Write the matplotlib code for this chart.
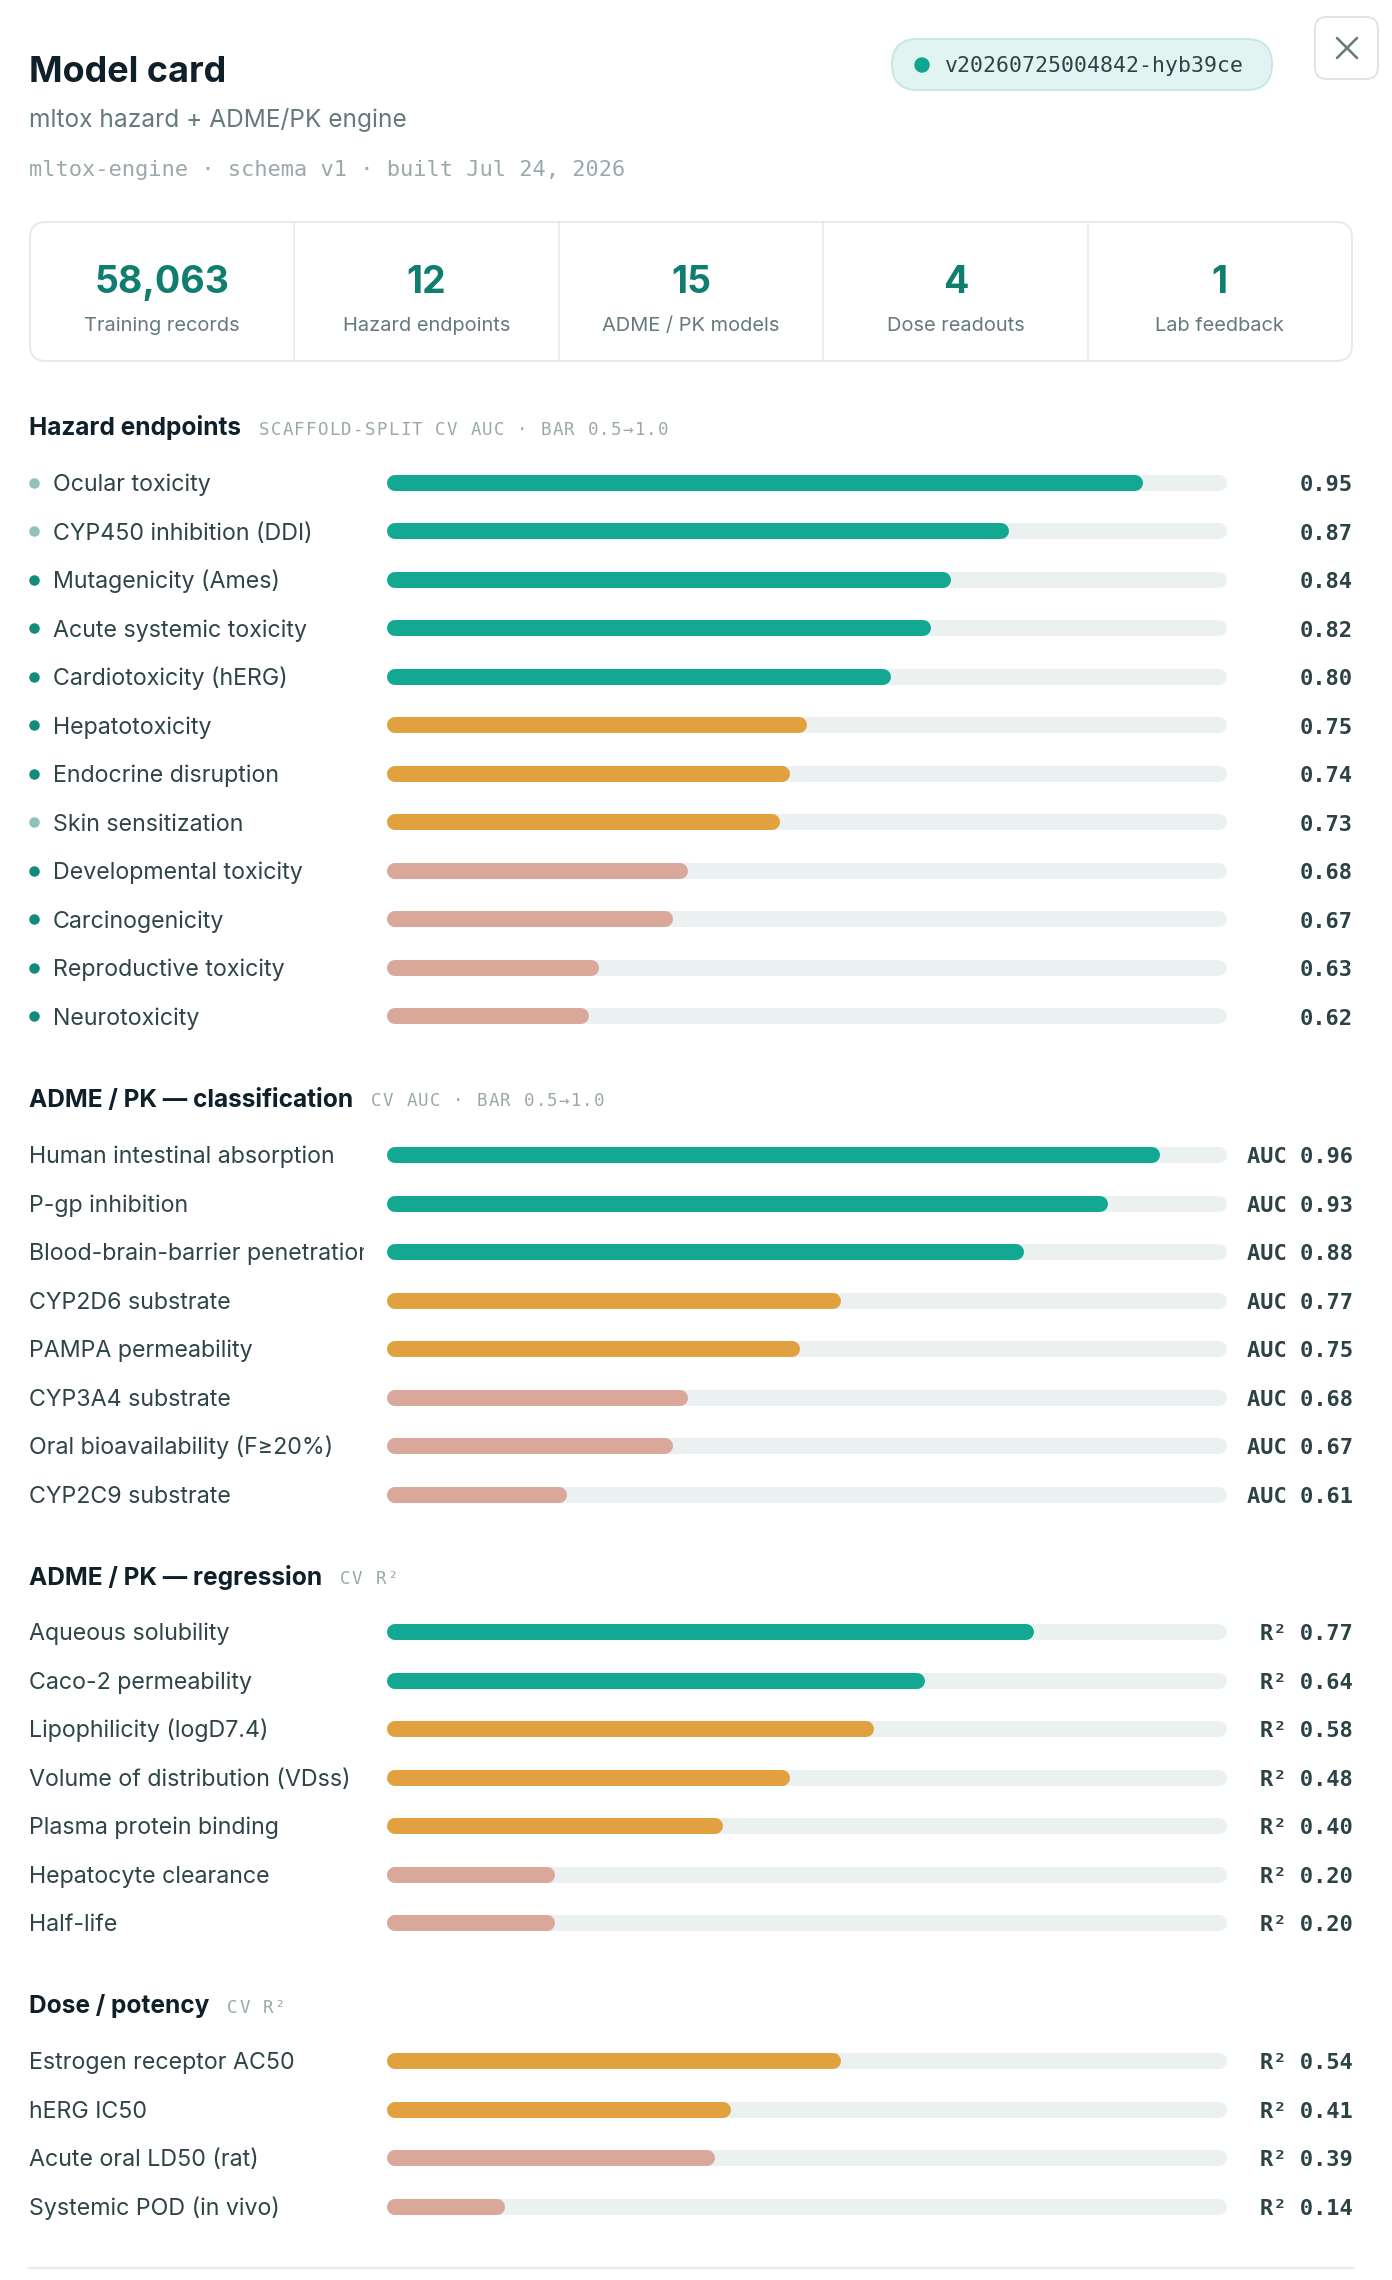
import matplotlib
matplotlib.use("Agg")
import matplotlib.pyplot as plt
from matplotlib.patches import FancyBboxPatch, Circle
from matplotlib.transforms import blended_transform_factory, Bbox, TransformedBbox

# ---------------- data ----------------
version_tag = "v20260725004842-hyb39ce"
meta_line = "mltox-engine · schema v1 · built Jul 24, 2026"

stat_values = ["58,063", "12", "15", "4", "1"]
stat_labels = ["Training records", "Hazard endpoints", "ADME / PK models", "Dose readouts", "Lab feedback"]

hazard_names = ["Ocular toxicity", "CYP450 inhibition (DDI)", "Mutagenicity (Ames)",
                "Acute systemic toxicity", "Cardiotoxicity (hERG)", "Hepatotoxicity",
                "Endocrine disruption", "Skin sensitization", "Developmental toxicity",
                "Carcinogenicity", "Reproductive toxicity", "Neurotoxicity"]
hazard_auc = [0.950, 0.870, 0.836, 0.824, 0.800, 0.750, 0.740, 0.734, 0.679, 0.670, 0.626, 0.620]
hazard_light_dot = [True, True, False, False, False, False, False, True, False, False, False, False]

class_names = ["Human intestinal absorption", "P-gp inhibition", "Blood-brain-barrier penetration",
               "CYP2D6 substrate", "PAMPA permeability", "CYP3A4 substrate",
               "Oral bioavailability (F≥20%)", "CYP2C9 substrate"]
class_auc = [0.960, 0.929, 0.879, 0.770, 0.746, 0.679, 0.670, 0.607]

reg_names = ["Aqueous solubility", "Caco-2 permeability", "Lipophilicity (logD7.4)",
             "Volume of distribution (VDss)", "Plasma protein binding", "Hepatocyte clearance",
             "Half-life"]
reg_r2 = [0.77, 0.64, 0.58, 0.48, 0.40, 0.20, 0.20]

dose_names = ["Estrogen receptor AC50", "hERG IC50", "Acute oral LD50 (rat)", "Systemic POD (in vivo)"]
dose_r2 = [0.54, 0.41, 0.39, 0.14]

# ---------------- style ----------------
W, H, DPI = 1392, 2280, 100
PT = 72 / DPI  # pixel -> point

SANS = ["Inter", "DejaVu Sans"]
MONO = ["DejaVu Sans Mono"]

INK = "#10202a"
LABEL = "#2f4447"
SUB = "#66797b"
FAINT = "#9aa9aa"
VALUE = "#2c4245"
STAT = "#0f7e6e"
TEAL = "#12a892"
ORANGE = "#e0a13e"
PINK = "#d9a89a"
TRACK = "#ebf1f1"
DOT_DARK = "#128c7a"
DOT_LIGHT = "#8ec3ba"
LINE = "#e4ebeb"

LEFT, RIGHT = 29, 1353
TRACK_X0, TRACK_X1 = 387, 1227
BAR_H = 16
STEP = 48.5
LABEL_CLIP = 364


def bar_color(frac):
    if frac >= 0.6:
        return TEAL
    if frac >= 0.4:
        return ORANGE
    return PINK


fig = plt.figure(figsize=(W / DPI, H / DPI), dpi=DPI)
fig.patch.set_facecolor("white")
bg = fig.add_axes([0, 0, 1, 1])
bg.set_xlim(0, W)
bg.set_ylim(H, 0)
bg.axis("off")
renderer = fig.canvas.get_renderer()


def px_axes(x0, y0, x1, y1):
    return fig.add_axes([x0 / W, 1 - y1 / H, (x1 - x0) / W, (y1 - y0) / H])


def spaced(x, y, s, size, gap, color):
    # mono text with a bit of letter spacing
    adv = 0.602 * size + gap
    for i, ch in enumerate(s):
        bg.text(x + i * adv, y, ch, fontsize=size * PT, family=MONO, color=color, va="baseline")


# ---------------- header ----------------
bg.text(LEFT, 82, "Model card", fontsize=36 * PT, fontweight="bold", family=SANS, color=INK, va="baseline")
bg.text(LEFT, 127, "mltox hazard + ADME/PK engine", fontsize=24.5 * PT, family=SANS, color=SUB, va="baseline")
bg.text(LEFT, 176, meta_line, fontsize=22 * PT, family=MONO, color=FAINT, va="baseline")

pill = FancyBboxPatch((892, 39), 380, 51, boxstyle="round,pad=0,rounding_size=25.5",
                      fc="#e1f4f1", ec="#c8e8e2", lw=2 * PT)
bg.add_patch(pill)
bg.add_patch(Circle((922, 65), 7, color="#10a58f"))
bg.text(945, 72.5, version_tag, fontsize=21.5 * PT, family=MONO, color=VALUE, va="baseline")

close = FancyBboxPatch((1315, 17), 63, 62, boxstyle="round,pad=0,rounding_size=12",
                       fc="white", ec="#dde5e5", lw=2 * PT)
bg.add_patch(close)
bg.plot([1337, 1357], [38, 58], color="#6b7b7d", lw=2.6 * PT, solid_capstyle="round")
bg.plot([1337, 1357], [58, 38], color="#6b7b7d", lw=2.6 * PT, solid_capstyle="round")

# ---------------- stats card ----------------
card = FancyBboxPatch((30, 222), 1322, 139, boxstyle="round,pad=0,rounding_size=16",
                      fc="white", ec=LINE, lw=2 * PT)
bg.add_patch(card)
col_w = 1322 / len(stat_values)
for i, (val, lab) in enumerate(zip(stat_values, stat_labels)):
    cx = 30 + col_w * (i + 0.5)
    if i > 0:
        bg.plot([30 + col_w * i] * 2, [223, 360], color=LINE, lw=1.6 * PT)
    bg.text(cx, 293, val, fontsize=37.5 * PT, fontweight="bold", family=SANS, color=STAT,
            ha="center", va="baseline")
    bg.text(cx, 331, lab, fontsize=20 * PT, family=SANS, color=SUB, ha="center", va="baseline")


# ---------------- bar sections ----------------
def draw_section(title, sub, y_head, y_first, names, values, lo, hi, prefix, dots=None):
    t = bg.text(LEFT, y_head + 8.5, title, fontsize=24.5 * PT, fontweight="bold", family=SANS,
                color=INK, va="baseline")
    x_end = t.get_window_extent(renderer).x1
    spaced(x_end + 18, y_head + 8, sub, 17.5, 1.2, FAINT)

    n = len(names)
    top = y_first - STEP / 2
    ax = px_axes(TRACK_X0, top, TRACK_X1, top + n * STEP)
    ax.set_xlim(lo, hi)
    ax.set_ylim(n - 0.5, -0.5)
    ax.axis("off")

    r = (BAR_H / 2) / (TRACK_X1 - TRACK_X0) * (hi - lo)
    for i, v in enumerate(values):
        ax.plot([lo + r, hi - r], [i, i], color=TRACK, lw=BAR_H * PT,
                solid_capstyle="round", clip_on=False)
        ax.plot([lo + r, v - r], [i, i], color=bar_color((v - lo) / (hi - lo)), lw=BAR_H * PT,
                solid_capstyle="round", clip_on=False)

    tr = blended_transform_factory(bg.transData, ax.transData)
    clip = TransformedBbox(Bbox([[LEFT, -1], [LABEL_CLIP, 2]]),
                           blended_transform_factory(bg.transData, ax.transAxes))
    label_x = LEFT if dots is None else 53
    base = 8.3 / STEP  # baseline offset in row units
    for i, (name, v) in enumerate(zip(names, values)):
        lab = bg.text(label_x, i + base, name, transform=tr, fontsize=23.2 * PT, family=SANS,
                      color=LABEL, va="baseline")
        # long names get cut at the bar column, like an overflow:hidden cell
        lab.set_clip_path(None)
        lab.set_clip_box(clip)
        lab.set_clip_on(True)
        bg.text(RIGHT, i + base, f"{prefix}{v:.2f}", transform=tr, fontsize=22 * PT, fontweight="bold",
                family=MONO, color=VALUE, ha="right", va="baseline")
        if dots is not None:
            ax.plot([34], [i], "o", transform=tr, ms=10.5 * PT, mew=0,
                    color=DOT_LIGHT if dots[i] else DOT_DARK, clip_on=False)


draw_section("Hazard endpoints", "SCAFFOLD-SPLIT CV AUC · BAR 0.5→1.0", 427, 483,
             hazard_names, hazard_auc, 0.5, 1.0, "", dots=hazard_light_dot)
draw_section("ADME / PK — classification", "CV AUC · BAR 0.5→1.0", 1098, 1155,
             class_names, class_auc, 0.5, 1.0, "AUC ")
draw_section("ADME / PK — regression", "CV R²", 1576, 1632,
             reg_names, reg_r2, 0.0, 1.0, "R² ")
draw_section("Dose / potency", "CV R²", 2005, 2061,
             dose_names, dose_r2, 0.0, 1.0, "R² ")

bg.plot([LEFT, RIGHT], [2268, 2268], color="#e8eeee", lw=2.5 * PT)

fig.savefig("out.png", dpi=DPI, facecolor="white")
